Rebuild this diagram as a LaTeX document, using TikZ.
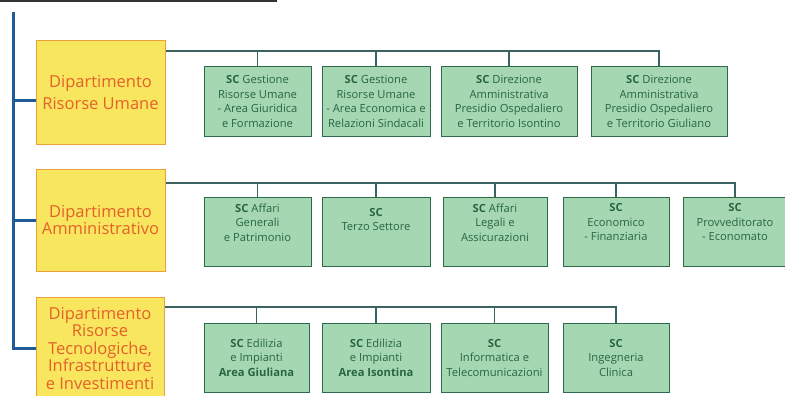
\documentclass[tikz,border=0pt]{standalone}
\usepackage{fontspec}
\setmainfont{Open Sans}
\definecolor{depfill}{HTML}{F8E65E}
\definecolor{depline}{HTML}{E9A23B}
\definecolor{deptext}{HTML}{E5602A}
\definecolor{scfill}{HTML}{A5D7B3}
\definecolor{scline}{HTML}{2D6B4C}
\definecolor{sctext}{HTML}{286642}
\definecolor{linkcol}{HTML}{3B6262}
\definecolor{trunkcol}{HTML}{1F5B94}
\begin{document}
\begin{tikzpicture}[x=1pt, y=-1pt]
		\tikzset{dep/.style={rectangle, draw=depline, fill=depfill, line width=1pt, text=deptext, align=center, inner sep=0pt, font=\fontsize{16.5}{17.5}\selectfont, minimum width=129pt, minimum height=103pt}};
		\tikzset{sc/.style={rectangle, draw=scline, fill=scfill, line width=1pt, text=sctext, align=center, inner sep=0pt, font=\fontsize{11.2}{14.5}\selectfont, minimum width=107pt, minimum height=69pt}};
		\tikzset{link/.style={draw=linkcol, line width=1.2pt}};
		\tikzset{trunk/.style={draw=trunkcol, line width=3pt}};
		\useasboundingbox (0,0) rectangle (785,396);

		\node[dep] (d1) at (100.5, 92.5) {Dipartimento\\[5pt]Risorse Umane};
		\node[dep, minimum height=102pt] (d2) at (100.5, 220) {Dipartimento\\Amministrativo};
		\node[dep, minimum width=128pt] (d3) at (100, 348.5) {Dipartimento\\Risorse\\Tecnologiche,\\Infrastrutture\\e Investimenti};

		\node[sc] (g11) at (257.5, 101.5) {\textbf{SC} Gestione\\Risorse Umane\\- Area Giuridica\\e Formazione};
		\node[sc, minimum width=108pt] (g12) at (376, 101.5) {\textbf{SC} Gestione\\Risorse Umane\\- Area Economica e\\Relazioni Sindacali};
		\node[sc, minimum width=136pt] (g13) at (509, 101.5) {\textbf{SC} Direzione\\Amministrativa\\Presidio Ospedaliero\\e Territorio Isontino};
		\node[sc, minimum width=136pt] (g14) at (659, 101.5) {\textbf{SC} Direzione\\Amministrativa\\Presidio Ospedaliero\\e Territorio Giuliano};

		\node[sc] (g21) at (257.5, 231.5) {\textbf{SC} Affari\\Generali\\e Patrimonio\\[4pt]};
		\node[sc, minimum width=108pt] (g22) at (376, 231.5) {\textbf{SC}\\Terzo Settore\\[10pt]};
		\node[sc, minimum width=104pt] (g23) at (495, 231.5) {\textbf{SC} Affari\\Legali e\\Assicurazioni\\[4pt]};
		\node[sc, minimum width=106pt] (g24) at (616, 231.5) {\textbf{SC}\\Economico\\- Finanziaria\\[4pt]};
		\node[sc, minimum width=104pt] (g25) at (735, 231.5) {\textbf{SC}\\Provveditorato\\- Economato\\[4pt]};

		\node[sc, minimum width=105pt] (g31) at (256.5, 357.5) {\textbf{SC} Edilizia\\e Impianti\\\textbf{Area Giuliana}};
		\node[sc, minimum width=108pt] (g32) at (376, 357.5) {\textbf{SC} Edilizia\\e Impianti\\\textbf{Area Isontina}};
		\node[sc] (g33) at (494.5, 357.5) {\textbf{SC}\\Informatica e\\Telecomunicazioni};
		\node[sc, minimum width=106pt] (g34) at (616, 357.5) {\textbf{SC}\\Ingegneria\\Clinica};

		% title rule and trunk
		\draw[line width=2pt, draw=black!80] (0,1) -- (277,1);
		\coordinate (top) at (13,12);
		\draw[trunk] (top) |- (d3.west);
		\draw[trunk] (top |- 0,101) -- (d1.west |- 0,101);
		\draw[trunk] (top |- d2.west) -- (d2.west);

		% rows
		\coordinate (r1) at (0,51);
		\coordinate (r2) at (0,183);
		\coordinate (r3) at (0,307);

		\draw[link] (d1.east |- r1) -| (g14.north);
		\draw[link] (g11.north) -- (g11.north |- r1);
		\draw[link] (g12.north) -- (g12.north |- r1);
		\draw[link] (g13.north) -- (g13.north |- r1);

		\draw[link] (d2.east |- r2) -| (g25.north);
		\draw[link] (g21.north) -- (g21.north |- r2);
		\draw[link] (g22.north) -- (g22.north |- r2);
		\draw[link] (g23.north) -- (g23.north |- r2);
		\draw[link] (g24.north) -- (g24.north |- r2);

		\draw[link] (d3.east |- r3) -| (g34.north);
		\draw[link] (g31.north) -- (g31.north |- r3);
		\draw[link] (g32.north) -- (g32.north |- r3);
		\draw[link] (g33.north) -- (g33.north |- r3);

	\end{tikzpicture}
\end{document}
